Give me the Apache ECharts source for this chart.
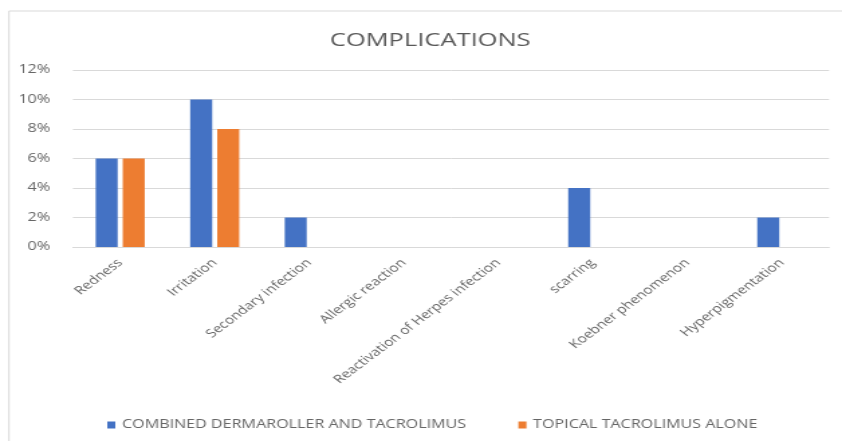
<!DOCTYPE html>
<html>
<head>
<meta charset="utf-8">
<script src="https://cdn.jsdelivr.net/npm/echarts@6/dist/echarts.min.js"></script>
<style>
  html, body { margin: 0; padding: 0; background: #ffffff; overflow: hidden; }
  /* The chart is laid out at its native width and then widened to fill the page */
  #chart {
    width: 628px;
    height: 441px;
    transform: scaleX(1.3408);
    transform-origin: 0 0;
  }
</style>
</head>
<body>
<div id="chart"></div>
<script>
// Complication rates per treatment group (percent of patients)
const categories = [
  'Redness',
  'Irritation',
  'Secondary infection',
  'Allergic reaction',
  'Reactivation of Herpes infection',
  'scarring',
  'Koebner phenomenon',
  'Hyperpigmentation'
];
const combinedName = 'COMBINED DERMAROLLER AND TACROLIMUS';
const topicalName = 'TOPICAL TACROLIMUS ALONE';
const combinedValues = [6, 10, 2, 0, 0, 4, 0, 2];
const topicalValues = [6, 8, 0, 0, 0, 0, 0, 0];
const yTicks = { min: 0, max: 12, interval: 2 };

const chart = echarts.init(document.getElementById('chart'));
const textColor = '#666666';
const font = '"Open Sans", "Noto Sans", sans-serif';

chart.setOption({
  backgroundColor: '#ffffff',
  animation: false,
  graphic: [{
    type: 'rect',
    shape: { x: 6.7, y: 11, width: 700, height: 500 },
    style: { fill: 'none', stroke: '#d9d9d9', lineWidth: 1 },
    silent: true
  }],
  title: {
    text: 'COMPLICATIONS',
    left: 241,
    top: 26,
    textStyle: { color: '#595959', fontSize: 19, fontWeight: 'normal', fontFamily: font }
  },
  legend: {
    top: 414,
    left: 75,
    itemWidth: 6,
    itemHeight: 7,
    itemGap: 39,
    icon: 'rect',
    textStyle: { color: textColor, fontSize: 12, fontFamily: font },
    data: [combinedName, topicalName]
  },
  grid: { left: 54.4, right: 9.7, top: 70, bottom: 194, containLabel: false },
  xAxis: {
    type: 'category',
    data: categories,
    axisLine: { show: true, lineStyle: { color: '#d9d9d9' } },
    axisTick: { show: false },
    axisLabel: {
      rotate: 45,
      color: textColor,
      fontSize: 11.5,
      fontFamily: font,
      margin: 14,
      interval: 0
    }
  },
  yAxis: {
    type: 'value',
    min: yTicks.min,
    max: yTicks.max,
    interval: yTicks.interval,
    axisLine: { show: false },
    axisTick: { show: false },
    axisLabel: { color: textColor, fontSize: 12, fontFamily: font, margin: 17, formatter: '{value}%' },
    splitLine: { lineStyle: { color: '#d9d9d9', width: 1 } }
  },
  series: [
    {
      name: combinedName,
      type: 'bar',
      data: combinedValues,
      barWidth: 16.4,
      barGap: '23%',
      itemStyle: { color: '#4472C4' }
    },
    {
      name: topicalName,
      type: 'bar',
      data: topicalValues,
      barWidth: 16.4,
      barGap: '23%',
      itemStyle: { color: '#ED7D31' }
    }
  ]
});
</script>
</body>
</html>
